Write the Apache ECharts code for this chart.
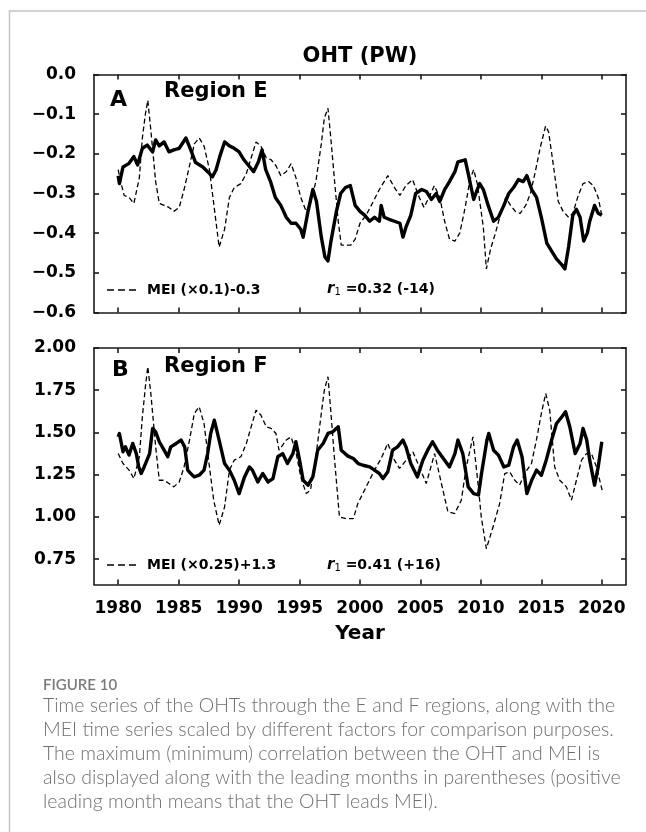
<!DOCTYPE html>
<html>
<head>
<meta charset="utf-8">
<script src="https://cdn.jsdelivr.net/npm/echarts@6/dist/echarts.min.js"></script>
<style>
  html, body { margin: 0; padding: 0; background: #fff; }
  #chart { width: 646px; height: 832px; }
</style>
</head>
<body>
<div id="chart"></div>
<script>
// Ocean heat transport (PW) through region E, monthly series read as [year, value]
const ohtE = [[1980.0,-0.255],[1980.1,-0.275],[1980.4,-0.233],[1980.9,-0.224],[1981.3,-0.207],[1981.6,-0.228],[1982.0,-0.186],[1982.4,-0.178],[1982.85,-0.195],[1983.1,-0.165],[1983.4,-0.18],[1983.8,-0.17],[1984.2,-0.195],[1984.6,-0.19],[1985.05,-0.186],[1985.6,-0.16],[1986.0,-0.19],[1986.4,-0.222],[1987.0,-0.233],[1987.4,-0.245],[1987.8,-0.258],[1988.1,-0.24],[1988.4,-0.207],[1988.8,-0.17],[1989.2,-0.18],[1989.6,-0.186],[1990.0,-0.195],[1990.4,-0.215],[1990.8,-0.23],[1991.2,-0.245],[1991.6,-0.22],[1991.9,-0.19],[1992.2,-0.24],[1992.6,-0.27],[1993.0,-0.31],[1993.45,-0.33],[1993.9,-0.36],[1994.3,-0.375],[1994.7,-0.375],[1995.1,-0.39],[1995.3,-0.41],[1995.7,-0.345],[1996.1,-0.29],[1996.4,-0.32],[1996.8,-0.41],[1997.1,-0.46],[1997.35,-0.47],[1997.6,-0.42],[1998.05,-0.345],[1998.4,-0.30],[1998.8,-0.285],[1999.2,-0.28],[1999.6,-0.33],[2000.0,-0.345],[2000.4,-0.355],[2000.8,-0.37],[2001.2,-0.36],[2001.6,-0.37],[2001.75,-0.33],[2002.0,-0.36],[2002.4,-0.365],[2002.85,-0.37],[2003.3,-0.375],[2003.55,-0.41],[2003.8,-0.385],[2004.2,-0.355],[2004.6,-0.30],[2005.1,-0.29],[2005.5,-0.295],[2005.9,-0.315],[2006.3,-0.30],[2006.6,-0.32],[2007.0,-0.29],[2007.4,-0.27],[2007.85,-0.245],[2008.1,-0.22],[2008.7,-0.215],[2008.95,-0.25],[2009.4,-0.315],[2009.7,-0.29],[2009.9,-0.275],[2010.2,-0.29],[2010.6,-0.33],[2011.05,-0.37],[2011.45,-0.36],[2011.9,-0.33],[2012.3,-0.30],[2012.7,-0.285],[2013.1,-0.265],[2013.5,-0.27],[2013.8,-0.255],[2014.2,-0.29],[2014.6,-0.31],[2015.0,-0.36],[2015.45,-0.425],[2015.85,-0.445],[2016.25,-0.465],[2016.7,-0.48],[2016.95,-0.49],[2017.25,-0.435],[2017.6,-0.355],[2017.9,-0.34],[2018.2,-0.36],[2018.5,-0.42],[2018.8,-0.40],[2019.0,-0.37],[2019.4,-0.33],[2019.7,-0.35],[2020.0,-0.355]];

// MEI scaled as (x0.1)-0.3 for panel A
const meiE = [[1980.0,-0.24],[1980.2,-0.27],[1980.5,-0.305],[1980.9,-0.31],[1981.3,-0.325],[1981.75,-0.26],[1982.0,-0.16],[1982.25,-0.10],[1982.45,-0.065],[1982.7,-0.14],[1983.1,-0.27],[1983.4,-0.325],[1983.8,-0.33],[1984.2,-0.335],[1984.6,-0.345],[1985.05,-0.335],[1985.45,-0.29],[1985.9,-0.23],[1986.3,-0.175],[1986.7,-0.16],[1987.1,-0.18],[1987.55,-0.24],[1987.9,-0.325],[1988.35,-0.435],[1988.8,-0.39],[1989.2,-0.31],[1989.6,-0.285],[1990.15,-0.275],[1990.6,-0.25],[1991.0,-0.21],[1991.4,-0.17],[1991.8,-0.18],[1992.25,-0.21],[1992.65,-0.215],[1993.05,-0.23],[1993.45,-0.255],[1993.9,-0.245],[1994.3,-0.225],[1994.7,-0.26],[1995.1,-0.31],[1995.55,-0.345],[1995.9,-0.325],[1996.35,-0.27],[1996.8,-0.175],[1997.05,-0.11],[1997.35,-0.085],[1997.6,-0.165],[1997.9,-0.27],[1998.2,-0.37],[1998.45,-0.43],[1998.85,-0.43],[1999.25,-0.43],[1999.6,-0.415],[2000.0,-0.375],[2000.5,-0.355],[2001.1,-0.32],[2001.6,-0.29],[2002.3,-0.255],[2002.85,-0.285],[2003.3,-0.305],[2003.8,-0.28],[2004.35,-0.265],[2004.9,-0.31],[2005.3,-0.335],[2005.7,-0.31],[2006.15,-0.28],[2006.6,-0.31],[2007.0,-0.37],[2007.4,-0.415],[2007.85,-0.42],[2008.25,-0.40],[2008.7,-0.335],[2009.1,-0.265],[2009.4,-0.24],[2009.7,-0.275],[2009.95,-0.33],[2010.2,-0.385],[2010.45,-0.49],[2010.8,-0.44],[2011.2,-0.40],[2011.6,-0.355],[2012.05,-0.31],[2012.45,-0.33],[2012.85,-0.345],[2013.25,-0.35],[2013.7,-0.33],[2014.1,-0.30],[2014.5,-0.245],[2014.9,-0.185],[2015.35,-0.13],[2015.6,-0.145],[2016.0,-0.23],[2016.4,-0.32],[2016.8,-0.345],[2017.25,-0.36],[2017.6,-0.35],[2018.05,-0.305],[2018.45,-0.275],[2018.9,-0.27],[2019.3,-0.28],[2019.7,-0.31],[2020.0,-0.355]];

// Ocean heat transport (PW) through region F
const ohtF = [[1980.0,1.474],[1980.1,1.494],[1980.4,1.385],[1980.6,1.415],[1980.9,1.366],[1981.2,1.435],[1981.5,1.375],[1981.7,1.296],[1981.9,1.257],[1982.15,1.296],[1982.6,1.375],[1982.85,1.524],[1983.1,1.504],[1983.4,1.445],[1983.8,1.395],[1984.1,1.356],[1984.35,1.415],[1984.8,1.435],[1985.2,1.455],[1985.5,1.415],[1985.75,1.277],[1986.0,1.257],[1986.3,1.237],[1986.7,1.247],[1987.1,1.277],[1987.4,1.375],[1987.65,1.494],[1987.95,1.573],[1988.35,1.455],[1988.8,1.316],[1989.2,1.277],[1989.6,1.217],[1990.0,1.138],[1990.45,1.237],[1990.85,1.296],[1991.1,1.277],[1991.55,1.207],[1991.95,1.257],[1992.4,1.207],[1992.8,1.227],[1993.2,1.356],[1993.6,1.375],[1994.0,1.316],[1994.45,1.375],[1994.7,1.445],[1995.0,1.336],[1995.3,1.217],[1995.7,1.188],[1996.1,1.237],[1996.5,1.395],[1996.95,1.435],[1997.35,1.494],[1997.75,1.504],[1998.2,1.534],[1998.45,1.395],[1999.0,1.36],[1999.45,1.346],[1999.85,1.316],[2000.25,1.306],[2000.8,1.296],[2001.2,1.277],[2001.6,1.257],[2001.9,1.227],[2002.3,1.267],[2002.7,1.395],[2003.1,1.415],[2003.55,1.455],[2003.8,1.415],[2004.2,1.316],[2004.75,1.237],[2005.2,1.336],[2005.6,1.395],[2006.0,1.445],[2006.4,1.395],[2007.0,1.336],[2007.4,1.296],[2007.85,1.375],[2008.1,1.455],[2008.5,1.375],[2008.95,1.178],[2009.4,1.138],[2009.8,1.13],[2010.05,1.257],[2010.5,1.455],[2010.65,1.494],[2011.05,1.395],[2011.45,1.366],[2011.9,1.296],[2012.3,1.306],[2012.7,1.415],[2013.0,1.455],[2013.4,1.356],[2013.8,1.138],[2014.2,1.217],[2014.6,1.277],[2015.0,1.247],[2015.4,1.336],[2015.85,1.455],[2016.25,1.553],[2016.7,1.593],[2017.0,1.623],[2017.35,1.534],[2017.8,1.375],[2018.2,1.435],[2018.45,1.524],[2018.75,1.455],[2019.0,1.336],[2019.4,1.188],[2019.7,1.296],[2020.0,1.445]];

// MEI scaled as (x0.25)+1.3 for panel B
const meiF = [[1980.0,1.375],[1980.4,1.316],[1980.9,1.277],[1981.3,1.227],[1981.75,1.356],[1982.0,1.593],[1982.25,1.77],[1982.45,1.889],[1982.7,1.731],[1983.1,1.415],[1983.4,1.217],[1983.8,1.217],[1984.2,1.198],[1984.6,1.178],[1985.05,1.207],[1985.45,1.296],[1985.9,1.455],[1986.3,1.613],[1986.7,1.652],[1987.1,1.553],[1987.55,1.296],[1987.9,1.099],[1988.35,0.951],[1988.8,1.059],[1989.2,1.277],[1989.6,1.336],[1990.15,1.356],[1990.6,1.435],[1991.0,1.534],[1991.4,1.632],[1991.8,1.603],[1992.25,1.534],[1992.65,1.524],[1993.05,1.494],[1993.3,1.395],[1993.9,1.455],[1994.3,1.474],[1994.7,1.385],[1995.1,1.237],[1995.55,1.138],[1995.9,1.158],[1996.35,1.356],[1996.8,1.613],[1997.05,1.751],[1997.35,1.83],[1997.6,1.613],[1997.9,1.336],[1998.3,1.0],[1998.85,0.99],[1999.45,0.99],[1999.82,1.079],[2000.51,1.178],[2001.2,1.277],[2001.75,1.346],[2002.3,1.435],[2002.85,1.336],[2003.27,1.287],[2004.38,1.385],[2005.48,1.198],[2006.17,1.375],[2007.27,1.03],[2007.83,1.02],[2008.38,1.099],[2008.79,1.296],[2009.34,1.474],[2009.76,1.198],[2010.03,1.0],[2010.45,0.812],[2011.0,0.94],[2011.55,1.079],[2011.97,1.257],[2012.38,1.267],[2012.8,1.217],[2013.2,1.188],[2013.62,1.257],[2014.18,1.316],[2014.59,1.455],[2015.0,1.613],[2015.36,1.731],[2015.69,1.632],[2016.1,1.296],[2016.52,1.217],[2017.07,1.178],[2017.49,1.099],[2017.9,1.217],[2018.32,1.336],[2018.73,1.375],[2019.14,1.375],[2019.56,1.296],[2020.06,1.148]];

// Tick positions
const yearTicks = [1980, 1985, 1990, 1995, 2000, 2005, 2010, 2015, 2020];
const ticksE = [-0.6, -0.5, -0.4, -0.3, -0.2, -0.1, 0.0];
const ticksF = [0.75, 1.00, 1.25, 1.50, 1.75, 2.00];

const captionLines = [
  'Time series of the OHTs through the E and F regions, along with the',
  'MEI time series scaled by different factors for comparison purposes.',
  'The maximum (minimum) correlation between the OHT and MEI is',
  'also displayed along with the leading months in parentheses (positive',
  'leading month means that the OHT leads MEI).'
];

const FONT = '"DejaVu Sans", sans-serif';
const AX = { color: '#1a1a1a', width: 1.6 };

function xAx(grid, pos, labels) {
  return {
    gridIndex: grid, type: 'value', position: pos, min: 1978, max: 2022,
    axisLine: { show: true, onZero: false, lineStyle: AX },
    axisTick: { show: true, inside: true, length: 5, customValues: yearTicks, lineStyle: AX },
    axisLabel: labels ? {
      show: true, customValues: yearTicks, margin: 16,
      fontFamily: FONT, fontWeight: 'bold', fontSize: 17, color: '#000',
      formatter: v => String(Math.round(v))
    } : { show: false },
    splitLine: { show: false },
    name: labels ? 'Year' : '', nameLocation: 'middle', nameGap: 39,
    nameTextStyle: { fontFamily: FONT, fontWeight: 'bold', fontSize: 20, color: '#000' }
  };
}

function yAx(grid, pos, min, max, ticks, labels, dec) {
  return {
    gridIndex: grid, type: 'value', position: pos, min: min, max: max,
    axisLine: { show: true, onZero: false, lineStyle: AX },
    axisTick: { show: true, inside: true, length: 5, customValues: ticks, lineStyle: AX },
    axisLabel: labels ? {
      show: true, customValues: ticks, margin: 18,
      fontFamily: FONT, fontWeight: 'bold', fontSize: 17, color: '#000',
      formatter: v => {
        const r = Math.round(v * 100) / 100;
        return (r < 0 ? '\u2212' : '') + Math.abs(r).toFixed(dec);
      }
    } : { show: false },
    splitLine: { show: false }
  };
}

const txt = (text, x, y, size, extra) => ({
  type: 'text', x: x, y: y, silent: true,
  style: Object.assign({
    text: text, font: 'bold ' + size + 'px ' + FONT, fill: '#000',
    textAlign: 'left', textVerticalAlign: 'middle'
  }, extra || {})
});

const rText = (rest, x, y) => ({
  type: 'text', x: x, y: y, silent: true,
  style: {
    text: '{r|r}{s|1}{t| =' + rest + '}',
    textVerticalAlign: 'middle', textAlign: 'left',
    rich: {
      r: { font: 'italic bold 15px ' + FONT, fill: '#000' },
      s: { font: '10px ' + FONT, fill: '#000', padding: [7, 0, 0, 0] },
      t: { font: 'bold 14px ' + FONT, fill: '#000' }
    }
  }
});

// short dashed key drawn beside the MEI label
const dashSample = (x, y) => ({
  type: 'line', silent: true,
  shape: { x1: x, y1: y, x2: x + 29, y2: y },
  style: { stroke: '#000', lineWidth: 1.3, lineDash: [7, 4] }
});

const graphics = [
  { type: 'rect', silent: true, shape: { x: 9.5, y: 11, width: 700, height: 900 },
    style: { fill: null, stroke: '#c4c4c4', lineWidth: 1.5 } },
  txt('OHT (PW)', 360, 57, 21, { textAlign: 'center' }),
  txt('A', 110, 100, 22),
  txt('Region E', 164, 92, 21),
  dashSample(107, 290),
  txt('MEI (\u00d70.1)-0.3', 147, 290, 14),
  rText('0.32 (-14)', 327, 289),
  txt('B', 112, 370, 22),
  txt('Region F', 164, 367, 21),
  dashSample(107, 565),
  txt('MEI (\u00d70.25)+1.3', 147, 565, 14),
  rText('0.41 (+16)', 327, 565),
  { type: 'text', x: 43, y: 685, silent: true,
    style: { text: 'FIGURE 10', font: '600 15px Lato, "Open Sans", sans-serif', fill: '#7b7b7b',
      textVerticalAlign: 'middle' } }
];
captionLines.forEach((line, i) => {
  graphics.push({ type: 'text', x: 43, y: 706 + i * 24, silent: true,
    style: { text: line, font: '300 19.5px Lato, "Open Sans", sans-serif', fill: '#6f6f6f',
      textVerticalAlign: 'middle' } });
});

const chart = echarts.init(document.getElementById('chart'), null, { renderer: 'canvas' });
chart.setOption({
  animation: false,
  backgroundColor: '#fff',
  grid: [
    { left: 94, top: 74.5, width: 532, height: 238 },
    { left: 94, top: 348, width: 532, height: 236.5 }
  ],
  xAxis: [
    xAx(0, 'bottom', false), xAx(0, 'top', false),
    xAx(1, 'bottom', true), xAx(1, 'top', false)
  ],
  yAxis: [
    yAx(0, 'left', -0.6, 0, ticksE, true, 1), yAx(0, 'right', -0.6, 0, ticksE, false, 1),
    yAx(1, 'left', 0.6, 2.0, ticksF, true, 2), yAx(1, 'right', 0.6, 2.0, ticksF, false, 2)
  ],
  series: [
    { type: 'line', xAxisIndex: 0, yAxisIndex: 0, data: meiE, showSymbol: false, silent: true,
      lineStyle: { color: '#000', width: 1.3, type: [5, 3] } },
    { type: 'line', xAxisIndex: 0, yAxisIndex: 0, data: ohtE, showSymbol: false, silent: true,
      lineStyle: { color: '#000', width: 3.4, join: 'round' } },
    { type: 'line', xAxisIndex: 2, yAxisIndex: 2, data: meiF, showSymbol: false, silent: true,
      lineStyle: { color: '#000', width: 1.3, type: [5, 3] } },
    { type: 'line', xAxisIndex: 2, yAxisIndex: 2, data: ohtF, showSymbol: false, silent: true,
      lineStyle: { color: '#000', width: 3.4, join: 'round' } }
  ],
  graphic: graphics
});
</script>
</body>
</html>
